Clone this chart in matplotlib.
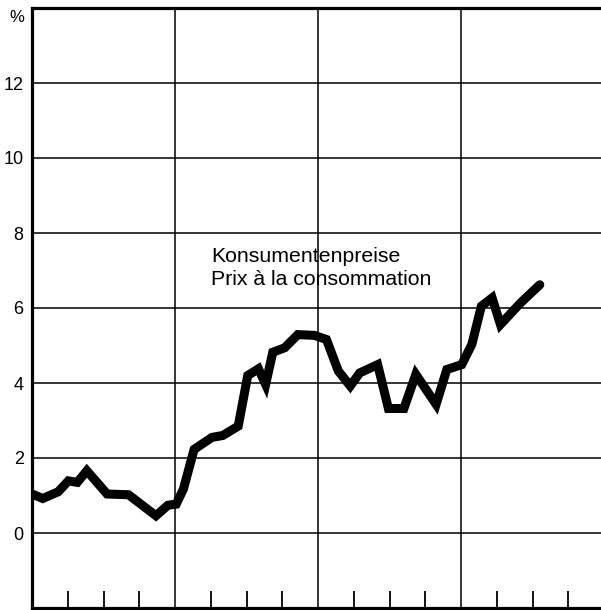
"""Konsumentenpreise / Prix a la consommation, recreated"""

import matplotlib
matplotlib.use('Agg')
from matplotlib import pyplot as plt

# Months since start of the first year, and % change
months = [0.0, 0.9, 2.2, 3.05, 3.8, 4.6, 6.3, 8.1, 10.4, 11.4, 12.1, 12.7,
          13.6, 15.1, 16.0, 17.3, 18.1, 19.0, 19.6, 20.2, 21.2, 22.3, 23.7,
          24.7, 25.7, 26.7, 27.5, 29.0, 29.9, 31.2, 32.2, 33.9, 34.8, 36.05,
          36.9, 37.7, 38.6, 39.3, 41.0, 42.6]
values = [1.04, 0.92, 1.10, 1.39, 1.35, 1.66, 1.04, 1.02, 0.46, 0.74, 0.77, 1.17,
          2.23, 2.55, 2.60, 2.85, 4.20, 4.38, 3.96, 4.82, 4.94, 5.29, 5.27,
          5.16, 4.32, 3.92, 4.27, 4.49, 3.32, 3.32, 4.23, 3.43, 4.36, 4.49,
          5.03, 6.05, 6.27, 5.56, 6.14, 6.62]

y_ticks = [0, 2, 4, 6, 8, 10, 12]
year_lines = [12, 24, 36]
quarter_ticks = [3, 6, 9, 15, 18, 21, 27, 30, 33, 39, 42, 45]

FONT = 'Liberation Sans'

fig = plt.figure(figsize=(6.01, 6.10), dpi=100)
ax = fig.add_axes([32 / 601, 2 / 610, 569 / 601, 600 / 610])

# Grid
for y in y_ticks:
    ax.axhline(y, color='black', lw=1.1, zorder=1)
for x in year_lines:
    ax.axvline(x, color='black', lw=1.1, zorder=1)

# Quarter ticks along the bottom
for x in quarter_ticks:
    ax.plot([x, x], [-2, -1.55], color='black', lw=1.3, solid_capstyle='butt', zorder=1)

# Data line
ax.plot(months, values, color='black', lw=6.5, solid_joinstyle='miter',
        solid_capstyle='round', zorder=3, clip_on=True)

ax.set_xlim(0, 569 / 11.92)
ax.set_ylim(-2, 14)

ax.set_xticks([])
ax.set_yticks(y_ticks)
ax.set_yticklabels([str(v) for v in y_ticks], fontsize=13, family=FONT)
ax.tick_params(axis='y', length=0, pad=6)

for side in ['left', 'top', 'bottom']:
    ax.spines[side].set_linewidth(2.3)
ax.spines['right'].set_visible(False)

# Labels
ax.text(-0.027, 0.985, '%', transform=ax.transAxes, ha='center', va='center',
        fontsize=12, family=FONT)
ax.text(15.0, 7.07, 'Konsumentenpreise\nPrix à la consommation',
        fontsize=15.3, family=FONT, ha='left', va='center', linespacing=1.28,
        zorder=4)

fig.savefig('out.png', dpi=100)
